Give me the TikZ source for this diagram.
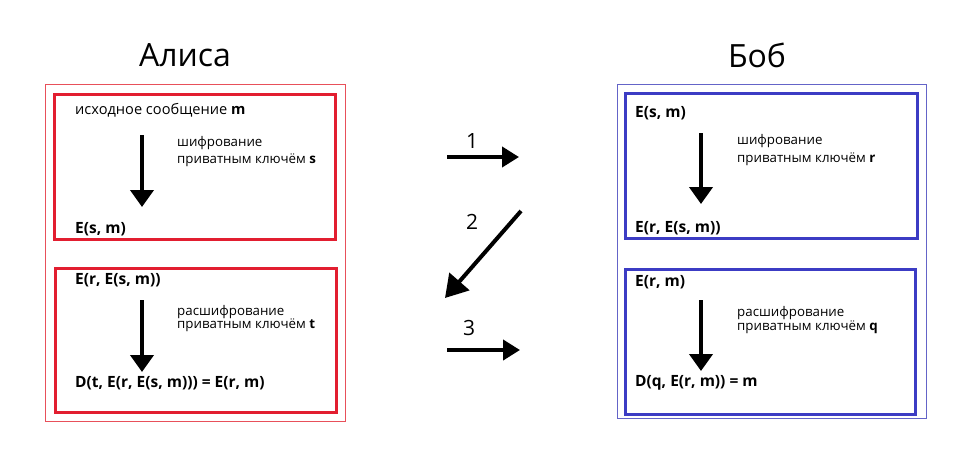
\documentclass[tikz,border=0pt]{standalone}
\usepackage{fontspec}
\setmainfont{Open Sans}
\usetikzlibrary{arrows.meta}
\definecolor{redbox}{RGB}{226,30,48}
\definecolor{redthin}{RGB}{232,80,90}
\definecolor{bluebox}{RGB}{60,60,196}
\definecolor{bluethin}{RGB}{100,100,200}
\tikzset{
  thinred/.style={draw=redthin,line width=1pt},
  thickred/.style={draw=redbox,line width=3pt},
  thinblue/.style={draw=bluethin,line width=1pt},
  thickblue/.style={draw=bluebox,line width=3pt},
  main/.style={anchor=west,inner sep=0pt,font=\fontsize{14.6}{16}\selectfont},
  formula/.style={anchor=west,inner sep=0pt,font=\fontsize{15.5}{17}\selectfont\bfseries},
  small/.style={anchor=west,inner sep=0pt,font=\fontsize{13.3}{15}\selectfont},
  title/.style={inner sep=0pt,font=\fontsize{32}{36}\selectfont},
  numlab/.style={inner sep=0pt,font=\fontsize{21}{24}\selectfont},
  vflow/.style={line width=4pt,-{Triangle[width=23pt,length=17pt]}},
  mflow/.style={line width=4pt,-{Triangle[width=20pt,length=17pt]}},
  dflow/.style={line width=4pt,-{Triangle[width=26pt,length=22pt]}},
}
\begin{document}
\begin{tikzpicture}[x=1pt,y=-1pt]
\useasboundingbox (0,0) rectangle (960,456);
% titles
\node[title] (alice) at (185,55) {Алиса};
\node[title] (bob) at (757,55) {Боб};
% Alice
\draw[thinred] (45,84) rectangle (345,421);
\draw[thickred] (54,94) rectangle (335,239);
\draw[thickred] (55,268) rectangle (336,412);
\node[main] (a1) at (75,110) {исходное сообщение \textbf{m}};
\node[small] (a1c1) at (177,143) {шифрование};
\node[small] (a1c2) at (177,160) {приватным ключём \textbf{s}};
\node[formula] (a2) at (75,229) {E(s, m)};
\coordinate (a1s) at (142,135);
\coordinate (a1e) at (142,207);
\draw[vflow] (a1s) -- (a1e);
\node[formula] (a3) at (75,280) {E(r, E(s, m))};
\node[small] (a3c1) at (177,312) {расшифрование};
\node[small] (a3c2) at (177,325) {приватным ключём \textbf{t}};
\node[formula] (a4) at (75,383) {D(t, E(r, E(s, m))) = E(r, m)};
\coordinate (a3s) at (142,300);
\coordinate (a3e) at (142,372);
\draw[vflow] (a3s) -- (a3e);
% Bob
\draw[thinblue] (617,84) rectangle (926,418);
\draw[thickblue] (625,93) rectangle (917,238);
\draw[thickblue] (625,269) rectangle (915,414);
\node[formula] (b1) at (635,113) {E(s, m)};
\node[small] (b1c1) at (737,141) {шифрование};
\node[small] (b1c2) at (737,159) {приватным ключём \textbf{r}};
\node[formula] (b2) at (635,228) {E(r, E(s, m))};
\coordinate (b1s) at (701,133);
\coordinate (b1e) at (701,204);
\draw[vflow] (b1s) -- (b1e);
\node[formula] (b3) at (635,282) {E(r, m)};
\node[small] (b3c1) at (737,313) {расшифрование};
\node[small] (b3c2) at (737,327) {приватным ключём \textbf{q}};
\node[formula] (b4) at (635,383) {D(q, E(r, m)) = m};
\coordinate (b3s) at (701,300);
\coordinate (b3e) at (701,371);
\draw[vflow] (b3s) -- (b3e);
% middle
\coordinate (m1s) at (447,157);
\coordinate (m1e) at (519,157);
\draw[mflow] (m1s) -- (m1e);
\node[numlab] (n1) at (472,141) {1};
\coordinate (m2s) at (521,211);
\coordinate (m2e) at (445,298);
\draw[dflow] (m2s) -- (m2e);
\node[numlab] (n2) at (472,222) {2};
\coordinate (m3s) at (447,350);
\coordinate (m3e) at (520,350);
\draw[mflow] (m3s) -- (m3e);
\node[numlab] (n3) at (469,328) {3};
\end{tikzpicture}
\end{document}
